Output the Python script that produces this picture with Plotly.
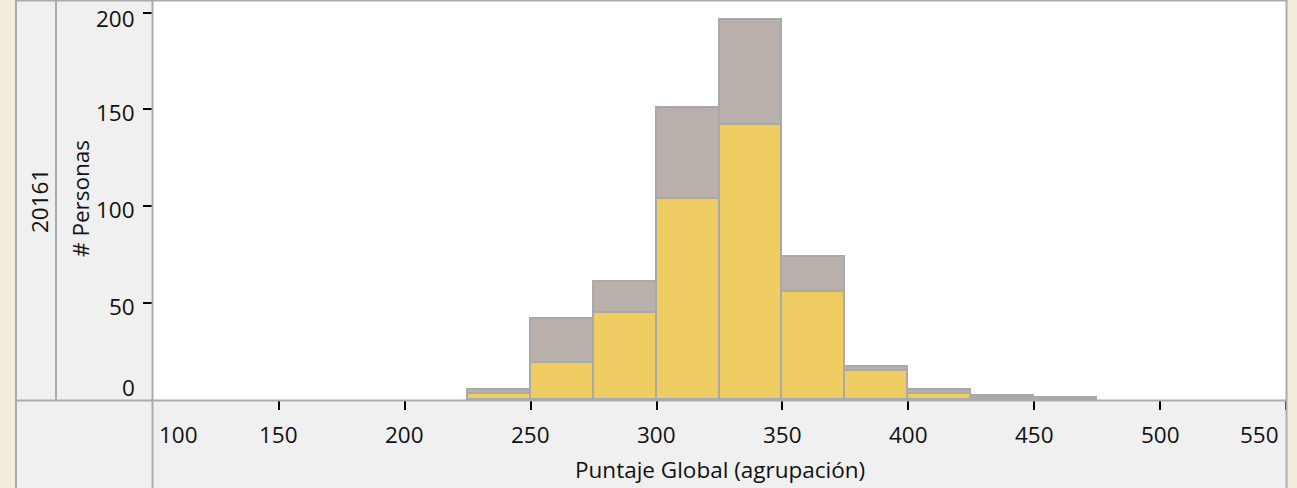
import plotly.graph_objects as go

# ---- data ----
bin_starts = [225, 250, 275, 300, 325, 350, 375, 400, 425, 450]
bin_width = 25
yellow_counts = [3, 19, 45, 104, 142, 56, 15, 3, 1, 0]
gray_counts = [2, 23, 16, 47, 54, 18, 2, 2, 1, 1]
x_tick_vals = [100, 150, 200, 250, 300, 350, 400, 450, 500, 550]
x_tick_text = ["100", "150", "200", "250", "300", "350", "400", "450", "500", "550"]
y_tick_vals = [0, 50, 100, 150, 200]
y_tick_text = ["0", "50", "100", "150", "200"]
x_title = "Puntaje Global (agrupación)"
y_title = "# Personas"
group_label = "20161"

# ---- layout geometry (pixels) ----
W, H = 1297, 488
ML, MR, MT, MB = 153, 11, 1, 88
PW = W - ML - MR
PH = H - MT - MB


def xp(px):
    return (px - ML) / PW


def yp(py):
    return (H - MB - py) / PH


FONT = "Open Sans"
FS = 22.5
TXT = "#111111"
LINE = "#ababab"
PANEL = "#f0f0f0"
BEIGE = "#f5eddb"

centers = [s + bin_width / 2 for s in bin_starts]

fig = go.Figure()
fig.add_trace(go.Bar(x=centers, y=yellow_counts, width=bin_width,
                     marker=dict(color="#efcd63", line=dict(color="#a9a9a9", width=1.8)),
                     hoverinfo="skip"))
fig.add_trace(go.Bar(x=centers, y=gray_counts, width=bin_width,
                     marker=dict(color="#b9b0ab", line=dict(color="#a9a9a9", width=1.8)),
                     hoverinfo="skip"))

shapes = []
shapes.append(dict(type="rect", xref="paper", yref="paper", x0=xp(16), x1=xp(ML), y0=yp(0), y1=yp(H),
                   fillcolor=PANEL, line=dict(width=0), layer="below"))
shapes.append(dict(type="rect", xref="paper", yref="paper", x0=xp(16), x1=xp(1287), y0=yp(400), y1=yp(H),
                   fillcolor=PANEL, line=dict(width=0), layer="below"))


def hline(py, x0, x1):
    shapes.append(dict(type="line", xref="paper", yref="paper", x0=xp(x0), x1=xp(x1), y0=yp(py), y1=yp(py),
                       line=dict(color=LINE, width=2), layer="above"))


def vline(px, y0, y1):
    shapes.append(dict(type="line", xref="paper", yref="paper", x0=xp(px), x1=xp(px), y0=yp(y0), y1=yp(y1),
                       line=dict(color=LINE, width=2), layer="above"))


hline(0.5, 16, 1287)
hline(400.5, 16, 1287)
vline(16, 0, H)
vline(56, 0, 400)
vline(152.5, 0, H)
vline(1286.5, 0, H)

annotations = []
n = len(x_tick_vals)
for i, (v, t) in enumerate(zip(x_tick_vals, x_tick_text)):
    if i == 0:
        anchor, shift = "left", 4
    elif i == n - 1:
        anchor, shift = "right", -5
    else:
        anchor, shift = "center", 0
    annotations.append(dict(x=v, xref="x", y=0, yref="paper", text=t, showarrow=False,
                            xanchor=anchor, yanchor="middle", xshift=shift, yshift=-34,
                            font=dict(family=FONT, size=FS, color=TXT)))
m = len(y_tick_vals)
for i, (v, t) in enumerate(zip(y_tick_vals, y_tick_text)):
    if i == 0:
        ys = 13
    elif i == m - 1:
        ys = -6
    else:
        ys = -3
    annotations.append(dict(x=0, xref="paper", y=v, yref="y", text=t, showarrow=False,
                            xanchor="right", yanchor="middle", xshift=-16, yshift=ys,
                            font=dict(family=FONT, size=FS, color=TXT)))
annotations.append(dict(x=0.5, xref="paper", y=yp(469), yref="paper", text=x_title, showarrow=False,
                        xanchor="center", yanchor="middle", font=dict(family=FONT, size=FS, color=TXT)))
annotations.append(dict(x=xp(80), xref="paper", y=yp(199), yref="paper", text=y_title, showarrow=False,
                        textangle=-90, xanchor="center", yanchor="middle",
                        font=dict(family=FONT, size=FS, color=TXT)))
annotations.append(dict(x=xp(39), xref="paper", y=yp(201), yref="paper", text=group_label, showarrow=False,
                        textangle=-90, xanchor="center", yanchor="middle",
                        font=dict(family=FONT, size=FS, color=TXT)))

fig.update_layout(
    width=W, height=H,
    margin=dict(l=ML, r=MR, t=MT, b=MB, pad=0),
    paper_bgcolor=BEIGE, plot_bgcolor="white",
    barmode="stack", bargap=0, showlegend=False,
    shapes=shapes, annotations=annotations,
    xaxis=dict(range=[100, 550], showgrid=False, zeroline=False, showline=False,
               tickvals=x_tick_vals[1:], showticklabels=False,
               ticks="outside", ticklen=9, tickwidth=1.6, tickcolor="#000000", fixedrange=True),
    yaxis=dict(range=[0, 206], showgrid=False, zeroline=False, showline=False,
               tickvals=y_tick_vals[1:], showticklabels=False,
               ticks="outside", ticklen=9, tickwidth=1.6, tickcolor="#000000", fixedrange=True),
)

fig.write_html("out.html", config={"displayModeBar": False},
               post_script="document.body.style.margin='0px';document.body.style.padding='0px';document.body.style.overflow='hidden';")
